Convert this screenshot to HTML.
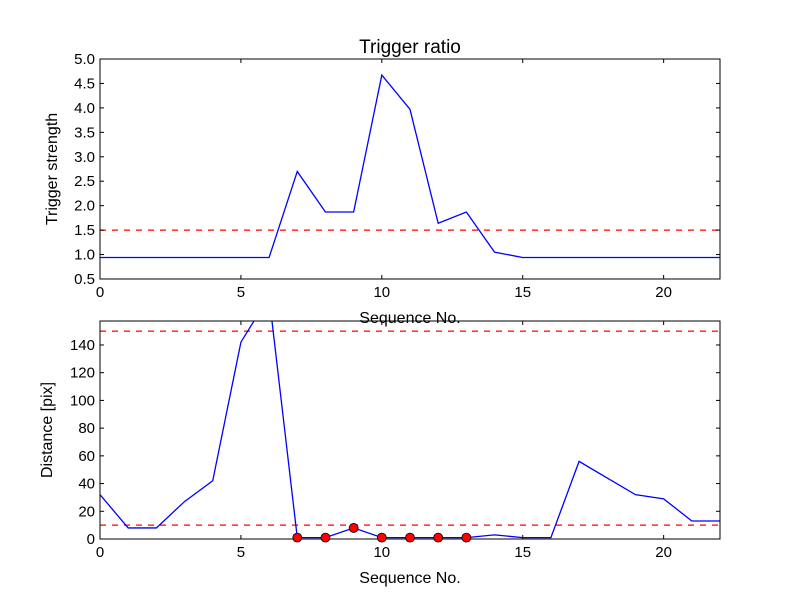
<!DOCTYPE html>
<html><head><meta charset="utf-8"><style>
body{margin:0;background:#fff;}
svg{font-family:"Liberation Sans","DejaVu Sans",sans-serif;}
</style></head><body>
<svg id="c" width="800" height="600" xmlns="http://www.w3.org/2000/svg"></svg>
<script>
const seq = [0,1,2,3,4,5,6,7,8,9,10,11,12,13,14,15,16,17,18,19,20,21,22];
const ratio = [0.94,0.94,0.94,0.94,0.94,0.94,0.94,2.7,1.87,1.87,4.67,3.97,1.64,1.87,1.05,0.94,0.94,0.94,0.94,0.94,0.94,0.94,0.94];
const dist = [32,8,8,27,42,142,175,1,1,8,1,1,1,1,3,1,1,56,44,32,29,13,13];
const markIdx = [7,8,9,10,11,12,13];
const xTicks = [0,5,10,15,20];
const topYTicks = ["0.5","1.0","1.5","2.0","2.5","3.0","3.5","4.0","4.5","5.0"];
const botYTicks = [0,20,40,60,80,100,120,140];
const ratioThresh = [1.5];
const distThresh = [10,150];

const NS="http://www.w3.org/2000/svg";
const svg=document.getElementById('c');
function mk(t,a,p){const e=document.createElementNS(NS,t);for(const k in a)e.setAttribute(k,a[k]);(p||svg).appendChild(e);return e;}
const X0=100,X1=720;
const xs=v=>X0+(v-0)/(22-0)*(X1-X0);

function panel(name,yT,yB,ymin,ymax,vals,yticks,thr,ylabel,title){
  const ys=v=>yB-(v-ymin)/(ymax-ymin)*(yB-yT);
  const g=mk('g',{});
  
  
  const cp='cp'+name;
  const cl=mk('clipPath',{id:cp},g);mk('rect',{x:X0,y:yT,width:X1-X0,height:yB-yT},cl);
  thr.forEach(t=>{const l=mk('line',{x1:X0,x2:X1,y1:ys(t),y2:ys(t),stroke:'#ff0000','stroke-width':1.3,'stroke-dasharray':'6,6'},g);
    
    });
  const p=mk('polyline',{points:vals.map((v,i)=>xs(seq[i])+','+ys(v)).join(' '),fill:'none',stroke:'#0000ff','stroke-width':1.3,'clip-path':'url(#'+cp+')'},g);
  
  
  mk('rect',{x:X0,y:yT,width:X1-X0,height:yB-yT,fill:'none',stroke:'#000','stroke-width':1},g);
  xTicks.forEach(t=>{const x=xs(t);
    mk('line',{x1:x,x2:x,y1:yB,y2:yB-4,stroke:'#000'},g);mk('line',{x1:x,x2:x,y1:yT,y2:yT+4,stroke:'#000'},g);
    const tx=mk('text',{x:x,y:yB+18,'text-anchor':'middle','font-size':15},g);tx.textContent=t;
    
    });
  yticks.forEach(t=>{const y=ys(+t);
    mk('line',{x1:X0,x2:X0+4,y1:y,y2:y,stroke:'#000'},g);mk('line',{x1:X1,x2:X1-4,y1:y,y2:y,stroke:'#000'},g);
    const tx=mk('text',{x:X0-5,y:y+5,'text-anchor':'end','font-size':15},g);tx.textContent=t;
    
    });
  const xl=mk('text',{x:410,y:yB+44,'text-anchor':'middle','font-size':16},g);xl.textContent='Sequence No.';
  
  
  const yl=mk('text',{x:0,y:0,'text-anchor':'middle','font-size':16,transform:'translate('+(name==='top-panel'?57:52)+','+((yT+yB)/2)+') rotate(-90)'},g);yl.textContent=ylabel;
  
  
  if(title){const tt=mk('text',{x:410,y:yT-6,'text-anchor':'middle','font-size':19},g);tt.textContent=title;
    
    }
  return ys;
}
panel('top-panel',59,279,0.5,5.0,ratio,topYTicks,ratioThresh,'Trigger strength','Trigger ratio');
const ysB=panel('bottom-panel',321,539,0,157.3,dist,botYTicks,distThresh,'Distance [pix]',null);
markIdx.forEach(i=>{const c=mk('circle',{cx:xs(seq[i]),cy:ysB(dist[i]),r:4.5,fill:'#ff0000',stroke:'#000','stroke-width':0.8});
  
  });
</script>
</body></html>
